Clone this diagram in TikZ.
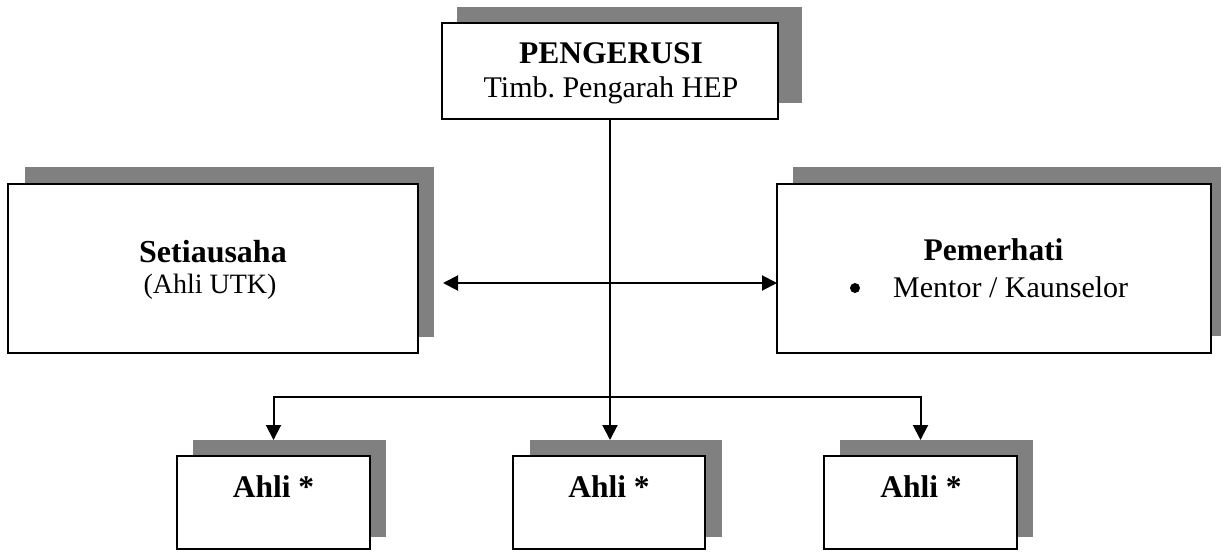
\documentclass[tikz,border=0pt]{standalone}
\usepackage{fontspec}
\setmainfont{Liberation Serif}
\usetikzlibrary{arrows.meta,calc}
\frenchspacing
\begin{document}
\begin{tikzpicture}[x=1pt,y=-1pt,
  shadowbox/.style={fill=black!50,draw=none,inner sep=0pt,outer sep=0pt},
  mainbox/.style={fill=white,draw=black,line width=2pt,inner sep=0pt,outer sep=0pt},
  conn/.style={line width=2pt,-{Triangle[length=15pt,width=15pt]}},
  dconn/.style={line width=2pt,{Triangle[length=15pt,width=15pt]}-{Triangle[length=15pt,width=15pt]}},
  bt/.style={anchor=base,inner sep=0pt,font=\fontsize{31.5}{36}\selectfont\bfseries},
  rt/.style={anchor=base,inner sep=0pt,font=\fontsize{30}{34}\selectfont}]
\useasboundingbox (0,0) rectangle (1221,552);
% shadows
\node[shadowbox,minimum width=345pt,minimum height=96pt] (ts) at (629.5,55) {};
\node[shadowbox,minimum width=409pt,minimum height=170pt] (ls) at (229.5,252) {};
\node[shadowbox,minimum width=428pt,minimum height=169pt] (rs) at (1007,251.5) {};
\node[shadowbox,minimum width=193pt,minimum height=97pt] (s1) at (289.5,488.5) {};
\node[shadowbox,minimum width=192pt,minimum height=97pt] (s2) at (626,488.5) {};
\node[shadowbox,minimum width=193pt,minimum height=97pt] (s3) at (936.5,488.5) {};
% boxes
\node[mainbox,minimum width=336pt,minimum height=96pt] (top) at (610,71) {};
\node[mainbox,minimum width=410pt,minimum height=169pt] (lb) at (213,268.5) {};
\node[mainbox,minimum width=434pt,minimum height=169pt] (rb) at (994,268.5) {};
\node[mainbox,minimum width=193pt,minimum height=93pt] (b1) at (273.5,502.5) {};
\node[mainbox,minimum width=192pt,minimum height=93pt] (b2) at (609,502.5) {};
\node[mainbox,minimum width=193pt,minimum height=93pt] (b3) at (920.5,502.5) {};
% texts
\node[bt] (t1) at (611,63) {PENGERUSI};
\node[rt] (t2) at (611,97) {Timb. Pengarah HEP};
\node[bt,font=\fontsize{32}{36}\selectfont\bfseries] (l1) at (213,262) {Setiausaha};
\node[rt,font=\fontsize{28}{32}\selectfont] (l2) at (210,293) {(Ahli UTK)};
\node[bt] (r1) at (993.5,260) {Pemerhati};
\fill (855,288) circle (5pt);
\node[rt,anchor=base west] (r2) at (893,297) {Mentor / Kaunselor};
\node[bt] (a1) at (273.5,497) {Ahli *};
\node[bt] (a2) at (609,497) {Ahli *};
\node[bt] (a3) at (921,497) {Ahli *};
% connectors
\coordinate (lt) at (443,283);
\coordinate (hy) at (610,397);
\draw[conn] (top.south) -- (top.south |- s2.north);
\draw[conn] (hy) -| (b1.north |- s1.north);
\draw[conn] (hy) -| (b3.north |- s3.north);
\draw[dconn] (lt) -- (rb.west |- lt);
\end{tikzpicture}
\end{document}
